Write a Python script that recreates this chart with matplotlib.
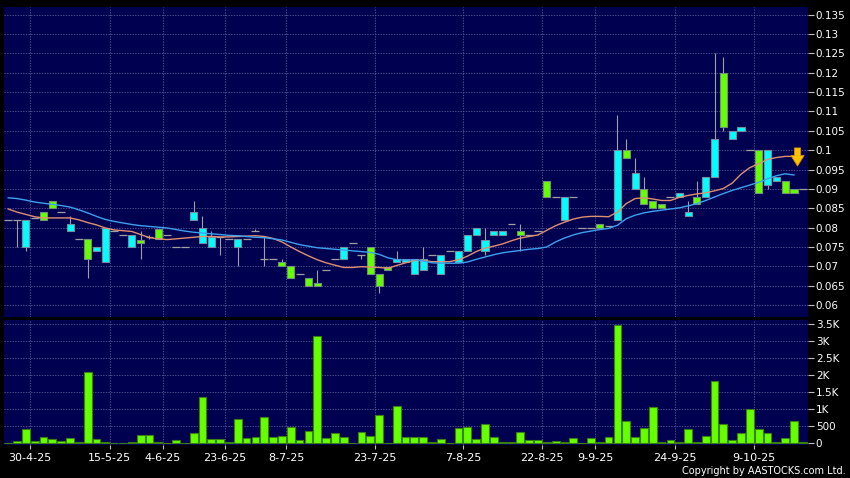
import matplotlib
matplotlib.use('Agg')
import matplotlib.pyplot as plt
import numpy as np

# one entry per session shown on the chart (left to right)
opens = [0.082, 0.082, 0.082, 0.0825, 0.082, 0.085, 0.084, 0.081, 0.077, 0.072,
         0.075, 0.080, 0.079, 0.078, 0.078, 0.076, 0.0775, 0.077, 0.078, 0.075,
         0.075, 0.084, 0.080, 0.0775, 0.0775, 0.077, 0.077, 0.077, 0.079, 0.072,
         0.072, 0.070, 0.067, 0.068, 0.065, 0.065, 0.069, 0.072, 0.075, 0.076,
         0.073, 0.068, 0.065, 0.069, 0.072, 0.072, 0.072, 0.072, 0.073, 0.073,
         0.074, 0.074, 0.078, 0.080, 0.0767, 0.079, 0.079, 0.081, 0.078, 0.078,
         0.079, 0.088, 0.088, 0.088, 0.088, 0.080, 0.080, 0.080, 0.0805, 0.100,
         0.098, 0.094, 0.086, 0.085, 0.085, 0.088, 0.089, 0.084, 0.086, 0.093,
         0.103, 0.106, 0.105, 0.106, 0.100, 0.089, 0.100, 0.093, 0.089, 0.089,
         0.090]
highs = [0.082, 0.082, 0.082, 0.0825, 0.084, 0.087, 0.084, 0.083, 0.077, 0.077,
         0.075, 0.080, 0.079, 0.078, 0.078, 0.079, 0.078, 0.0797, 0.078, 0.075,
         0.075, 0.087, 0.083, 0.079, 0.0775, 0.077, 0.077, 0.077, 0.0797, 0.0777,
         0.072, 0.072, 0.070, 0.068, 0.067, 0.069, 0.069, 0.072, 0.075, 0.076,
         0.073, 0.075, 0.068, 0.0697, 0.074, 0.072, 0.072, 0.075, 0.073, 0.073,
         0.074, 0.074, 0.078, 0.080, 0.080, 0.079, 0.079, 0.081, 0.081, 0.078,
         0.079, 0.092, 0.088, 0.088, 0.088, 0.080, 0.080, 0.081, 0.0805, 0.109,
         0.103, 0.098, 0.093, 0.087, 0.086, 0.088, 0.089, 0.087, 0.092, 0.093,
         0.125, 0.124, 0.105, 0.106, 0.100, 0.100, 0.100, 0.093, 0.092, 0.090,
         0.090]
lows = [0.082, 0.075, 0.074, 0.0825, 0.082, 0.085, 0.084, 0.079, 0.077, 0.067,
        0.074, 0.071, 0.079, 0.078, 0.075, 0.072, 0.077, 0.077, 0.078, 0.075,
        0.075, 0.082, 0.076, 0.075, 0.073, 0.077, 0.070, 0.077, 0.079, 0.070,
        0.072, 0.070, 0.067, 0.068, 0.065, 0.065, 0.069, 0.072, 0.072, 0.076,
        0.0718, 0.068, 0.063, 0.069, 0.071, 0.071, 0.068, 0.069, 0.073, 0.068,
        0.074, 0.071, 0.074, 0.078, 0.073, 0.078, 0.078, 0.081, 0.074, 0.078,
        0.079, 0.088, 0.088, 0.082, 0.088, 0.080, 0.080, 0.080, 0.0805, 0.082,
        0.098, 0.090, 0.086, 0.085, 0.085, 0.088, 0.088, 0.083, 0.086, 0.088,
        0.093, 0.105, 0.103, 0.105, 0.100, 0.089, 0.090, 0.092, 0.089, 0.089,
        0.090]
closes = [0.082, 0.082, 0.075, 0.0825, 0.084, 0.087, 0.084, 0.079, 0.077, 0.077,
          0.074, 0.071, 0.079, 0.078, 0.075, 0.0768, 0.0775, 0.0797, 0.078, 0.075,
          0.075, 0.082, 0.076, 0.075, 0.0775, 0.077, 0.075, 0.077, 0.079, 0.072,
          0.072, 0.071, 0.070, 0.068, 0.067, 0.0657, 0.069, 0.072, 0.072, 0.076,
          0.073, 0.075, 0.068, 0.0697, 0.071, 0.071, 0.068, 0.069, 0.073, 0.068,
          0.074, 0.071, 0.074, 0.078, 0.074, 0.078, 0.078, 0.081, 0.079, 0.078,
          0.079, 0.092, 0.088, 0.082, 0.088, 0.080, 0.080, 0.081, 0.0805, 0.082,
          0.100, 0.090, 0.090, 0.087, 0.086, 0.088, 0.088, 0.083, 0.088, 0.088,
          0.093, 0.120, 0.103, 0.105, 0.100, 0.100, 0.091, 0.092, 0.092, 0.090,
          0.090]
volumes = [0, 68, 430, 68, 196, 117, 68, 147, 40, 2083,
           137, 49, 0, 0, 40, 235, 235, 40, 0, 88,
           0, 293, 1359, 127, 127, 49, 722, 156, 186, 762,
           176, 225, 479, 108, 352, 3157, 156, 313, 196, 0,
           342, 225, 831, 20, 1085, 196, 176, 176, 30, 117,
           0, 449, 479, 117, 557, 196, 40, 30, 320, 98,
           98, 49, 68, 40, 155, 0, 155, 30, 186, 3471,
           663, 186, 449, 1075, 30, 88, 40, 411, 49, 215,
           1837, 576, 88, 293, 1016, 420, 313, 30, 155, 645,
           30]

# moving averages as drawn on the chart
ma_short = [0.0848, 0.0840, 0.0834, 0.0828, 0.0825, 0.0825, 0.0825, 0.0825, 0.0820, 0.0813,
            0.0807, 0.0799, 0.0794, 0.0792, 0.0790, 0.0782, 0.0774, 0.0771, 0.0769, 0.0771,
            0.0773, 0.0775, 0.0777, 0.0777, 0.0776, 0.0776, 0.0777, 0.0778, 0.0779, 0.0777,
            0.0772, 0.0763, 0.0750, 0.0738, 0.0727, 0.0717, 0.0709, 0.0703, 0.0697, 0.0697,
            0.0699, 0.0698, 0.0697, 0.0695, 0.0702, 0.0709, 0.0715, 0.0715, 0.0712, 0.0712,
            0.0712, 0.0717, 0.0726, 0.0738, 0.0747, 0.0752, 0.0758, 0.0766, 0.0773, 0.0777,
            0.0781, 0.0793, 0.0805, 0.0814, 0.0822, 0.0827, 0.0829, 0.0829, 0.0828, 0.0840,
            0.0862, 0.0875, 0.0877, 0.0874, 0.0870, 0.0870, 0.0878, 0.0883, 0.0887, 0.0890,
            0.0895, 0.0901, 0.0915, 0.0938, 0.0955, 0.0965, 0.0976, 0.0981, 0.0984, 0.0984]
ma_long = [0.0877, 0.0875, 0.0871, 0.0866, 0.0863, 0.0860, 0.0857, 0.0853, 0.0846, 0.0838,
           0.0829, 0.0821, 0.0816, 0.0812, 0.0808, 0.0805, 0.0803, 0.0801, 0.0799, 0.0795,
           0.0791, 0.0788, 0.0786, 0.0784, 0.0782, 0.0780, 0.0779, 0.0777, 0.0775, 0.0774,
           0.0771, 0.0768, 0.0762, 0.0756, 0.0752, 0.0748, 0.0746, 0.0744, 0.0742, 0.0740,
           0.0738, 0.0736, 0.0731, 0.0722, 0.0717, 0.0716, 0.0717, 0.0714, 0.0709, 0.0708,
           0.0708, 0.0708, 0.0711, 0.0718, 0.0724, 0.0730, 0.0735, 0.0738, 0.0741, 0.0744,
           0.0746, 0.0750, 0.0763, 0.0773, 0.0781, 0.0787, 0.0791, 0.0795, 0.0798, 0.0806,
           0.0823, 0.0832, 0.0838, 0.0842, 0.0845, 0.0848, 0.0851, 0.0856, 0.0862, 0.0870,
           0.0879, 0.0888, 0.0896, 0.0903, 0.0910, 0.0917, 0.0926, 0.0934, 0.0939, 0.0936]

date_index = [2, 11, 17, 24, 31, 41, 51, 60, 66, 75, 84]
date_labels = ['30-4-25', '15-5-25', '4-6-25', '23-6-25', '8-7-25', '23-7-25',
               '7-8-25', '22-8-25', '9-9-25', '24-9-25', '9-10-25']
price_ticks = [0.06, 0.065, 0.07, 0.075, 0.08, 0.085, 0.09, 0.095,
               0.1, 0.105, 0.11, 0.115, 0.12, 0.125, 0.13, 0.135]
vol_ticks = [0, 500, 1000, 1500, 2000, 2500, 3000, 3500]
vol_labels = ['0', '500', '1K', '1.5K', '2K', '2.5K', '3K', '3.5K']

BG = '#000050'
GRID = '#5c5c98'
UP = '#66ff00'
DOWN = '#00ffff'
WICK = '#a0a0a0'

o = np.array(opens)
h = np.array(highs)
l = np.array(lows)
c = np.array(closes)
x = np.arange(len(c))
up = c > o
down = c < o
flat = c == o

W, H = 850, 478
fig = plt.figure(figsize=(W / 100, H / 100), dpi=100, facecolor='black')
ax = fig.add_axes([4 / W, 1 - 317 / H, 803.5 / W, 310 / H], facecolor=BG)
axv = fig.add_axes([4 / W, 1 - 445 / H, 803.5 / W, 125 / H], facecolor=BG, sharex=ax)

# candles
ax.vlines(x, l, h, color=WICK, lw=0.8, zorder=2)
ax.bar(x[up], (c - o)[up], bottom=o[up], width=0.8, color=UP,
       edgecolor='#70907a', lw=0.8, zorder=3)
ax.bar(x[down], (o - c)[down], bottom=c[down], width=0.8, color=DOWN,
       edgecolor='#7090a0', lw=0.8, zorder=3)
ax.hlines(c[flat], x[flat] - 0.45, x[flat] + 0.45, color=WICK, lw=0.9, zorder=3)

# moving averages
ax.plot(np.arange(len(ma_short)), ma_short, color='#e09070', lw=1.0, zorder=4)
ax.plot(np.arange(len(ma_long)), ma_long, color='#3ea0f0', lw=1.0, zorder=4)

# down arrow next to the last session
ax.annotate('', xy=(89.4, 0.0952), xytext=(89.4, 0.1013),
            arrowprops=dict(arrowstyle='simple,head_length=0.75,head_width=0.95,tail_width=0.45',
                            fc='#ffc400', ec='#d88a00', lw=0.6), zorder=5)

ax.set_ylim(0.0569, 0.137)
ax.set_xlim(-0.48, 90.53)
ax.set_yticks(price_ticks)
ax.set_yticklabels([f'{v:g}' for v in price_ticks])

# volume
axv.bar(x, volumes, width=0.88, color=UP, edgecolor='#3a8010', lw=0.8, zorder=3)
axv.set_ylim(-50, 3620)
axv.set_yticks(vol_ticks)
axv.set_yticklabels(vol_labels)

grid_pos = [i + 0.5 for i in date_index]
axv.set_xticks(grid_pos)
axv.set_xticklabels(date_labels)

for a in (ax, axv):
    a.yaxis.tick_right()
    a.grid(True, color=GRID, ls=(0, (1.6, 1.6)), lw=0.6, zorder=0)
    a.set_axisbelow(True)
    for s in a.spines.values():
        s.set_visible(False)
    a.tick_params(axis='y', colors='#c0c0c0', labelcolor='white', length=4,
                  width=0.8, labelsize=7.5, pad=2)
ax.tick_params(axis='x', length=0, labelbottom=False)
axv.tick_params(axis='x', colors='#c0c0c0', labelcolor='white', length=3,
                width=0.8, labelsize=8, pad=3)

fig.text(0.995, 0.004, 'Copyright by AASTOCKS.com Ltd.', ha='right', va='bottom',
         color='white', fontsize=7)

fig.savefig('out.png', dpi=100, facecolor='black')
